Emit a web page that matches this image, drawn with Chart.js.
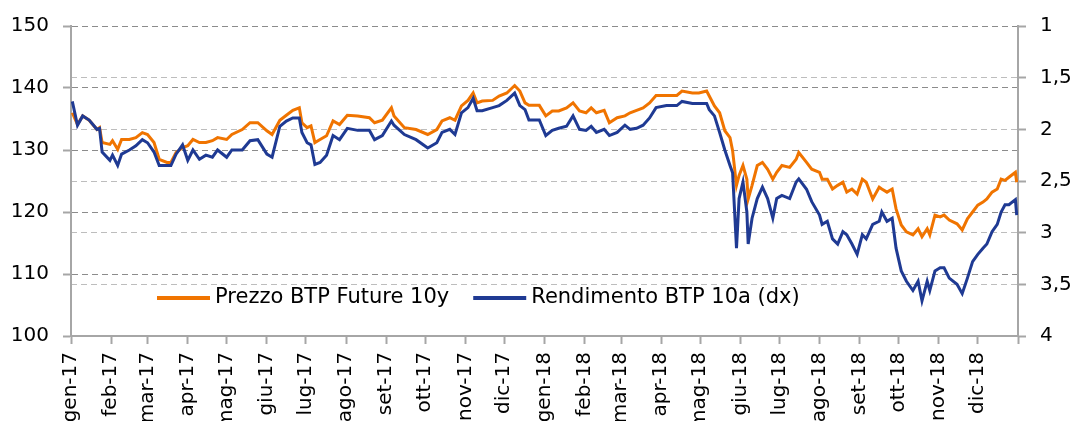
<!DOCTYPE html>
<html>
<head>
<meta charset="utf-8">
<script src="https://cdn.jsdelivr.net/npm/chart.js@4/dist/chart.umd.min.js"></script>
<style>
  html, body { margin: 0; padding: 0; background: #fff; }
  #wrap { width: 1079px; height: 421px; }
</style>
</head>
<body>
<div id="wrap"><canvas id="chart" width="1079" height="421"></canvas></div>
<script>
const monthLabels = ['gen-17', 'feb-17', 'mar-17', 'apr-17', 'mag-17', 'giu-17', 'lug-17', 'ago-17', 'set-17', 'ott-17', 'nov-17', 'dic-17',
  'gen-18', 'feb-18', 'mar-18', 'apr-18', 'mag-18', 'giu-18', 'lug-18', 'ago-18', 'set-18', 'ott-18', 'nov-18', 'dic-18'];

const dates = [
  '2017-01-02', '2017-01-06', '2017-01-10', '2017-01-15', '2017-01-21', '2017-01-23', '2017-01-25', '2017-01-31',
  '2017-02-02', '2017-02-06', '2017-02-09', '2017-02-15', '2017-02-20', '2017-02-25',
  '2017-03-01', '2017-03-06', '2017-03-10', '2017-03-16', '2017-03-19', '2017-03-23', '2017-03-28',
  '2017-04-01', '2017-04-05', '2017-04-10', '2017-04-15', '2017-04-20', '2017-04-24',
  '2017-05-01', '2017-05-05', '2017-05-13', '2017-05-19', '2017-05-25',
  '2017-06-01', '2017-06-05', '2017-06-11', '2017-06-16', '2017-06-21', '2017-06-26', '2017-06-28',
  '2017-07-02', '2017-07-05', '2017-07-08', '2017-07-12', '2017-07-17', '2017-07-22', '2017-07-27',
  '2017-08-02', '2017-08-10', '2017-08-19', '2017-08-23', '2017-08-29',
  '2017-09-05', '2017-09-07', '2017-09-15', '2017-09-24',
  '2017-10-03', '2017-10-10', '2017-10-14', '2017-10-20', '2017-10-24', '2017-10-29',
  '2017-11-03', '2017-11-07', '2017-11-10', '2017-11-14', '2017-11-22', '2017-11-27',
  '2017-12-03', '2017-12-09', '2017-12-13', '2017-12-17', '2017-12-20', '2017-12-28',
  '2018-01-02', '2018-01-07', '2018-01-12', '2018-01-18', '2018-01-23', '2018-01-28',
  '2018-02-02', '2018-02-06', '2018-02-10', '2018-02-16', '2018-02-20', '2018-02-26',
  '2018-03-04', '2018-03-08', '2018-03-13', '2018-03-18', '2018-03-23', '2018-03-28',
  '2018-04-05', '2018-04-13', '2018-04-17', '2018-04-25', '2018-04-30',
  '2018-05-06', '2018-05-08', '2018-05-12', '2018-05-16', '2018-05-20', '2018-05-24', '2018-05-26', '2018-05-29', '2018-05-31',
  '2018-06-03', '2018-06-06', '2018-06-07', '2018-06-10', '2018-06-14', '2018-06-18', '2018-06-22', '2018-06-26', '2018-06-29',
  '2018-07-03', '2018-07-09', '2018-07-14', '2018-07-16', '2018-07-22', '2018-07-26',
  '2018-08-01', '2018-08-03', '2018-08-07', '2018-08-11', '2018-08-15', '2018-08-19', '2018-08-22', '2018-08-26', '2018-08-30',
  '2018-09-03', '2018-09-06', '2018-09-11', '2018-09-16', '2018-09-18', '2018-09-22', '2018-09-26', '2018-09-29',
  '2018-10-03', '2018-10-07', '2018-10-12', '2018-10-16', '2018-10-19', '2018-10-23', '2018-10-25', '2018-10-29',
  '2018-11-02', '2018-11-05', '2018-11-09', '2018-11-15', '2018-11-19', '2018-11-23', '2018-11-27',
  '2018-12-01', '2018-12-05', '2018-12-08', '2018-12-12', '2018-12-16', '2018-12-19', '2018-12-22', '2018-12-25', '2018-12-30', '2018-12-31'
];

// Prezzo BTP Future 10y (asse sx)
const prezzo = [
  136.0, 134.1, 135.5, 134.8, 133.3, 133.6, 131.2, 130.9,
  131.5, 130.1, 131.7, 131.7, 132.0, 132.8,
  132.5, 131.2, 128.5, 128.0, 128.0, 129.6, 130.4,
  130.7, 131.7, 131.2, 131.2, 131.5, 132.0,
  131.7, 132.5, 133.3, 134.4, 134.4,
  133.1, 132.5, 134.8, 135.6, 136.4, 136.8, 134.4,
  133.6, 133.9, 131.2, 131.7, 132.3, 134.7, 134.1,
  135.6, 135.5, 135.2, 134.4, 134.8,
  136.8, 135.5, 133.6, 133.3,
  132.5, 133.3, 134.7, 135.2, 134.8, 137.1,
  138.0, 139.2, 137.6, 137.9, 138.0, 138.7,
  139.2, 140.4, 139.5, 137.6, 137.2, 137.2,
  135.5, 136.3, 136.3, 136.8, 137.6, 136.3,
  136.0, 136.8, 136.0, 136.4, 134.4, 135.2,
  135.5, 136.0, 136.4, 136.8, 137.6, 138.8,
  138.8, 138.8, 139.5, 139.2, 139.2,
  139.5, 138.7, 137.1, 136.0, 133.1, 132.0, 129.9, 124.3, 125.9,
  127.5, 125.3, 122.1, 124.3, 127.5, 128.0, 126.9, 125.3, 126.4,
  127.5, 127.2, 128.5, 129.6, 128.0, 126.9,
  126.4, 125.3, 125.3, 123.7, 124.3, 124.8, 123.2, 123.7, 122.9,
  125.3, 124.8, 122.1, 124.0, 123.7, 123.2, 123.7, 120.5,
  117.9, 116.8, 116.3, 117.3, 116.0, 117.3, 116.3, 119.5,
  119.2, 119.5, 118.7, 118.1, 117.1, 118.9, 120.0,
  121.1, 121.6, 122.1, 123.2, 123.7, 125.3, 125.1, 125.6, 126.4, 124.8
];

// Rendimento BTP 10a (asse dx, invertito)
const rendimento = [
  1.73, 1.96, 1.87, 1.91, 2.00, 1.99, 2.22, 2.30,
  2.25, 2.35, 2.24, 2.20, 2.16, 2.10,
  2.13, 2.22, 2.35, 2.35, 2.35, 2.24, 2.15,
  2.30, 2.20, 2.29, 2.25, 2.27, 2.20,
  2.27, 2.20, 2.20, 2.11, 2.10,
  2.24, 2.27, 1.97, 1.92, 1.89, 1.89, 2.03,
  2.13, 2.15, 2.34, 2.32, 2.25, 2.06, 2.10,
  1.99, 2.01, 2.01, 2.10, 2.06,
  1.92, 1.96, 2.05, 2.10,
  2.18, 2.13, 2.03, 2.00, 2.05, 1.84,
  1.79, 1.70, 1.82, 1.82, 1.79, 1.77,
  1.72, 1.65, 1.77, 1.81, 1.91, 1.91,
  2.06, 2.01, 1.99, 1.97, 1.87, 2.00,
  2.01, 1.97, 2.03, 2.00, 2.06, 2.03,
  1.96, 2.00, 1.99, 1.96, 1.89, 1.79,
  1.77, 1.77, 1.73, 1.75, 1.75,
  1.75, 1.81, 1.87, 2.03, 2.20, 2.35, 2.42, 3.15, 2.67,
  2.51, 2.80, 3.11, 2.86, 2.67, 2.56, 2.67, 2.86, 2.67,
  2.64, 2.67, 2.51, 2.48, 2.58, 2.70,
  2.83, 2.92, 2.89, 3.06, 3.11, 2.99, 3.02, 3.11, 3.21,
  3.02, 3.06, 2.92, 2.89, 2.80, 2.89, 2.86, 3.15,
  3.37, 3.47, 3.56, 3.47, 3.66, 3.47, 3.56, 3.37,
  3.34, 3.34, 3.44, 3.50, 3.59, 3.44, 3.28,
  3.21, 3.15, 3.11, 2.99, 2.92, 2.80, 2.73, 2.73, 2.68, 2.83
];

const DAY = 86400000;
const start = Date.UTC(2017, 0, 1);
function dayOf(s) {
  const [y, m, d] = s.split('-').map(Number);
  return (Date.UTC(y, m - 1, d) - start) / DAY;
}
const xs = dates.map(dayOf);
// month starts (plus the closing one at 1 Jan 2019) for the x ticks
const monthTicks = [];
for (let i = 0; i <= monthLabels.length; i++) monthTicks.push((Date.UTC(2017, i, 1) - start) / DAY);

const FONT = '"DejaVu Sans", Verdana, sans-serif';

// legend drawn inside the plot area, bottom left
const legendInside = {
  id: 'legendInside',
  afterDatasetsDraw(chart) {
    const ctx = chart.ctx;
    let x = 157;
    const y = 298;
    ctx.save();
    ctx.font = '21px ' + FONT;
    ctx.textBaseline = 'middle';
    chart.data.datasets.forEach(ds => {
      ctx.strokeStyle = ds.borderColor;
      ctx.lineWidth = 4;
      ctx.beginPath();
      ctx.moveTo(x, y);
      ctx.lineTo(x + 53, y);
      ctx.stroke();
      ctx.fillStyle = '#000';
      ctx.fillText(ds.label, x + 58, y);
      x += 58 + ctx.measureText(ds.label).width + 24;
    });
    ctx.restore();
  }
};

new Chart(document.getElementById('chart').getContext('2d'), {
  type: 'line',
  data: {
    datasets: [
      {
        label: 'Prezzo BTP Future 10y',
        data: xs.map((x, i) => ({ x: x, y: prezzo[i] })),
        borderColor: '#f07400',
        borderWidth: 3,
        pointRadius: 0,
        tension: 0,
        yAxisID: 'y',
        order: 2
      },
      {
        label: 'Rendimento BTP 10a (dx)',
        data: xs.map((x, i) => ({ x: x, y: rendimento[i] })),
        borderColor: '#1f3a93',
        borderWidth: 3,
        pointRadius: 0,
        tension: 0,
        yAxisID: 'y1',
        order: 1
      }
    ]
  },
  options: {
    responsive: false,
    animation: false,
    layout: { padding: { top: 22, left: 0, right: 0, bottom: 0 } },
    plugins: { legend: { display: false }, tooltip: { enabled: false } },
    scales: {
      x: {
        type: 'linear',
        min: 0,
        max: 730,
        afterBuildTicks: s => { s.ticks = monthTicks.map(v => ({ value: v })); },
        afterFit: s => { s.height = 85; },
        ticks: {
          autoSkip: false,
          minRotation: 90,
          maxRotation: 90,
          padding: 8,
          color: '#000',
          font: { family: FONT, size: 20 },
          callback: (v, i) => monthLabels[i] || ''
        },
        grid: { drawOnChartArea: false, drawTicks: true, tickLength: 8, tickColor: '#a6a6a6', tickWidth: 2 },
        border: { color: '#a6a6a6', width: 2 }
      },
      y: {
        position: 'left',
        min: 100,
        max: 150,
        afterFit: s => { s.width = 71; },
        ticks: { stepSize: 10, padding: 14, color: '#000', font: { family: FONT, size: 20 } },
        grid: {
          color: c => (c.tick && c.tick.value === 100) ? 'rgba(0,0,0,0)' : '#8c8c8c',
          lineWidth: 1,
          tickLength: 8,
          tickColor: '#a6a6a6',
          tickWidth: 2,
          tickBorderDash: []
        },
        border: { color: '#a6a6a6', width: 2, dash: [6, 4] }
      },
      y1: {
        position: 'right',
        min: 1,
        max: 4,
        reverse: true,
        afterFit: s => { s.width = 61; },
        ticks: {
          stepSize: 0.5,
          padding: 14,
          color: '#000',
          font: { family: FONT, size: 20 },
          callback: v => String(v).replace('.', ',')
        },
        grid: {
          color: c => (c.tick && (c.tick.value === 4 || c.tick.value === 1)) ? 'rgba(0,0,0,0)' : '#bdbdbd',
          lineWidth: 1,
          tickLength: 8,
          tickColor: '#a6a6a6',
          tickWidth: 2,
          tickBorderDash: []
        },
        border: { color: '#a6a6a6', width: 2, dash: [6, 4] }
      }
    }
  },
  plugins: [legendInside]
});
</script>
</body>
</html>
